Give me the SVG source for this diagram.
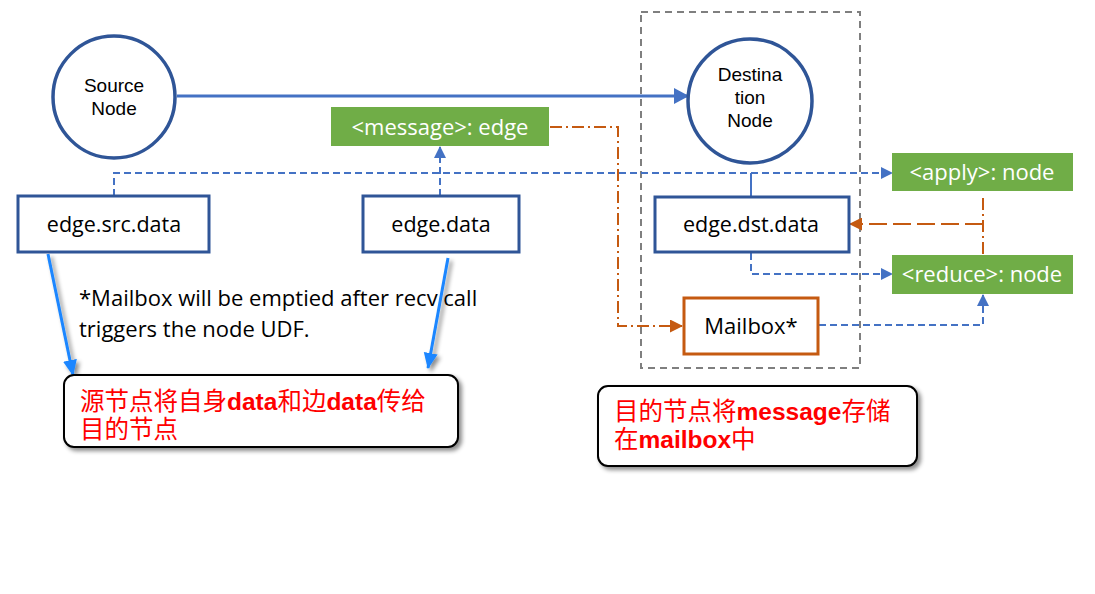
<svg xmlns="http://www.w3.org/2000/svg" width="1095" height="594" viewBox="0 0 1095 594">
<defs>
<style>
.circ{fill:#fff;stroke:#2f5597;stroke-width:3.5}
.box{fill:#fff;stroke:#2f5597;stroke-width:3}
.green{fill:#70ad47}
.gtxt{font-family:"Open Sans","Liberation Sans",sans-serif;font-size:22px;fill:#fff;text-anchor:middle}
.btxt{font-family:"Open Sans","Liberation Sans",sans-serif;font-size:21.5px;fill:#000;text-anchor:middle}
.ctxt{font-family:"Liberation Sans",Arial,sans-serif;font-size:19px;fill:#000;text-anchor:middle}
.note{font-family:"Open Sans","Liberation Sans",sans-serif;font-size:22px;fill:#000}
.red{font-family:"Liberation Sans","Noto Sans CJK SC",sans-serif;font-size:24.5px;fill:#ff0000}
.b{font-weight:bold}
.bdash{fill:none;stroke:#4472c4;stroke-width:2;stroke-dasharray:7,4}
.odd{fill:none;stroke:#c55a11;stroke-width:2;stroke-dasharray:12,4,2,4}
.olong{fill:none;stroke:#c55a11;stroke-width:2;stroke-dasharray:18,6}
.callout{fill:#fff;stroke:#000;stroke-width:2}
</style>
<marker id="ab" markerWidth="12" markerHeight="12" refX="11" refY="6" orient="auto" markerUnits="userSpaceOnUse"><path d="M0,0 L12,6 L0,12 z" fill="#4472c4"/></marker>
<marker id="abig" markerWidth="15" markerHeight="16" refX="14" refY="8" orient="auto" markerUnits="userSpaceOnUse"><path d="M0,0 L15,8 L0,16 z" fill="#4472c4"/></marker>
<marker id="ao" markerWidth="13" markerHeight="13" refX="12" refY="6.5" orient="auto" markerUnits="userSpaceOnUse"><path d="M0,0 L13,6.5 L0,13 z" fill="#c55a11"/></marker>
<marker id="abr" markerWidth="16" markerHeight="16" refX="15" refY="8" orient="auto" markerUnits="userSpaceOnUse"><path d="M0,1 L16,8 L0,15 z" fill="#1a86ff"/></marker>
<filter id="sh" x="-10%" y="-20%" width="130%" height="150%"><feDropShadow dx="3" dy="3" stdDeviation="2" flood-color="#000" flood-opacity="0.45"/></filter>
</defs>
<rect width="1095" height="594" fill="#fff"/>

<g id="container">
<rect x="641" y="12" width="219" height="356" fill="none" stroke="#7f7f7f" stroke-width="2" stroke-dasharray="7,5"/>
</g>

<g id="connectors">
<line x1="177" y1="96" x2="688" y2="96" stroke="#4472c4" stroke-width="3" marker-end="url(#abig)"/>
<polyline class="bdash" points="114,196 114,173 892,173" marker-end="url(#ab)"/>
<polyline class="bdash" points="440,196 440,147" marker-end="url(#ab)"/>
<line x1="751" y1="173" x2="751" y2="197" stroke="#4472c4" stroke-width="2"/>
<polyline class="bdash" points="751,253 751,274 892,274" marker-end="url(#ab)"/>
<polyline class="bdash" points="819,325 983,325 983,295" marker-end="url(#ab)"/>
<polyline class="odd" points="550,127 618,127 618,326 682,326" marker-end="url(#ao)"/>
<line class="odd" x1="983" y1="198" x2="983" y2="255"/>
<line class="olong" x1="983" y1="224" x2="850" y2="224" marker-end="url(#ao)"/>
<g filter="url(#sh)">
<line x1="48" y1="254" x2="73" y2="375" stroke="#1a86ff" stroke-width="3" marker-end="url(#abr)"/>
<line x1="448" y1="258" x2="428" y2="368" stroke="#1a86ff" stroke-width="3" marker-end="url(#abr)"/>
</g>
</g>

<g id="source-node">
<circle class="circ" cx="114" cy="97" r="61"/>
<text class="ctxt" x="114" y="92">Source</text>
<text class="ctxt" x="114" y="115">Node</text>
</g>

<g id="destination-node">
<circle class="circ" cx="750" cy="101" r="62"/>
<text class="ctxt" x="750" y="81">Destina</text>
<text class="ctxt" x="750" y="104">tion</text>
<text class="ctxt" x="750" y="127">Node</text>
</g>

<g id="message-edge">
<rect class="green" x="331" y="107" width="218" height="39"/>
<text class="gtxt" x="440" y="135">&lt;message&gt;: edge</text>
</g>

<g id="apply-node">
<rect class="green" x="892" y="153" width="181" height="38"/>
<text class="gtxt" x="982" y="180">&lt;apply&gt;: node</text>
</g>

<g id="reduce-node">
<rect class="green" x="892" y="255" width="181" height="39"/>
<text class="gtxt" x="982" y="282">&lt;reduce&gt;: node</text>
</g>

<g id="edge-src-data">
<rect class="box" x="18" y="196" width="191" height="56"/>
<text class="btxt" x="114" y="232">edge.src.data</text>
</g>

<g id="edge-data">
<rect class="box" x="363" y="196" width="156" height="56"/>
<text class="btxt" x="441" y="232">edge.data</text>
</g>

<g id="edge-dst-data">
<rect class="box" x="655" y="197" width="194" height="55"/>
<text class="btxt" x="751" y="232">edge.dst.data</text>
</g>

<g id="mailbox">
<rect x="684" y="298" width="134" height="56" fill="#fff" stroke="#c55a11" stroke-width="3"/>
<text class="btxt" x="751" y="334" style="font-size:22px">Mailbox*</text>
</g>

<g id="note">
<text class="note" x="79" y="306">*Mailbox will be emptied after recv call</text>
<text class="note" x="79" y="337">triggers the node UDF.</text>
</g>

<g id="callout-1">
<rect class="callout" x="64" y="375" width="394" height="72" rx="10" filter="url(#sh)"/>
<text class="red" x="80" y="410">源节点将自身<tspan class="b">data</tspan>和边<tspan class="b">data</tspan>传给</text>
<text class="red" x="80" y="438">目的节点</text>
</g>

<g id="callout-2">
<rect class="callout" x="598" y="386" width="319" height="80" rx="10" filter="url(#sh)"/>
<text class="red" x="614" y="420">目的节点将<tspan class="b">message</tspan>存储</text>
<text class="red" x="614" y="448">在<tspan class="b">mailbox</tspan>中</text>
</g>
</svg>
